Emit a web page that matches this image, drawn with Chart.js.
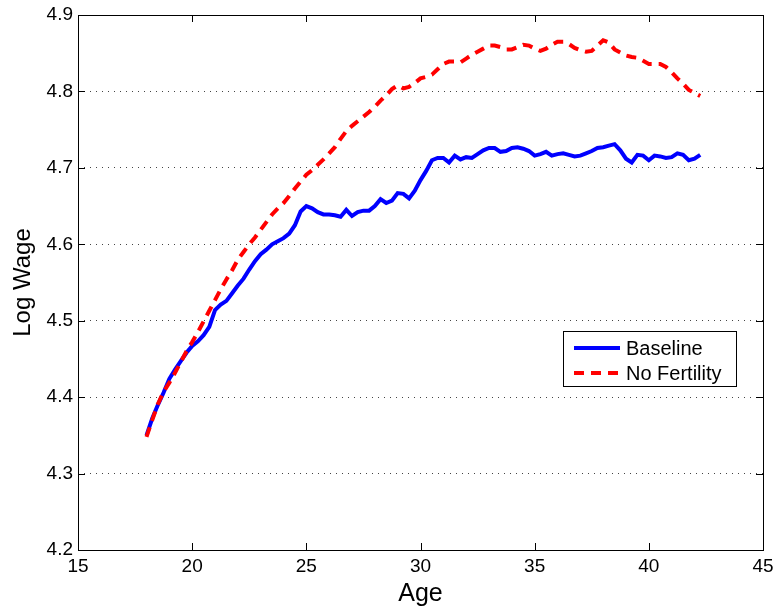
<!DOCTYPE html>
<html lang="en">
<head>
<meta charset="UTF-8">
<title>Log Wage by Age</title>
<style>
  body { margin: 0; background: #fff; }
  #wrap { width: 776px; height: 614px; }
</style>
</head>
<body>
<div id="wrap"><canvas id="chart" width="776" height="614"></canvas></div>
<script src="https://cdn.jsdelivr.net/npm/chart.js@4"></script>
<script>
// edad (trimestres)
const ages = [
  18.00, 18.25, 18.50, 18.75, 19.00, 19.25, 19.50, 19.75,
  20.00, 20.25, 20.50, 20.75, 21.00, 21.25, 21.50, 21.75,
  22.00, 22.25, 22.50, 22.75, 23.00, 23.25, 23.50, 23.75,
  24.00, 24.25, 24.50, 24.75, 25.00, 25.25, 25.50, 25.75,
  26.00, 26.25, 26.50, 26.75, 27.00, 27.25, 27.50, 27.75,
  28.00, 28.25, 28.50, 28.75, 29.00, 29.25, 29.50, 29.75,
  30.00, 30.25, 30.50, 30.75, 31.00, 31.25, 31.50, 31.75,
  32.00, 32.25, 32.50, 32.75, 33.00, 33.25, 33.50, 33.75,
  34.00, 34.25, 34.50, 34.75, 35.00, 35.25, 35.50, 35.75,
  36.00, 36.25, 36.50, 36.75, 37.00, 37.25, 37.50, 37.75,
  38.00, 38.25, 38.50, 38.75, 39.00, 39.25, 39.50, 39.75,
  40.00, 40.25, 40.50, 40.75, 41.00, 41.25, 41.50, 41.75,
  42.00, 42.25
];
const baseline = [
  4.350, 4.372, 4.390, 4.406, 4.424, 4.436, 4.447, 4.458,
  4.467, 4.473, 4.481, 4.492, 4.514, 4.521, 4.526, 4.536,
  4.546, 4.555, 4.567, 4.578, 4.587, 4.593, 4.600, 4.604,
  4.608, 4.614, 4.625, 4.643, 4.650, 4.647, 4.642, 4.639,
  4.639, 4.638, 4.636, 4.645, 4.637, 4.642, 4.644, 4.644,
  4.650, 4.659, 4.654, 4.657, 4.667, 4.666, 4.660, 4.670,
  4.684, 4.696, 4.710, 4.713, 4.713, 4.707, 4.716, 4.711,
  4.714, 4.713, 4.718, 4.723, 4.726, 4.726, 4.721, 4.722,
  4.726, 4.727, 4.725, 4.722, 4.716, 4.718, 4.721, 4.716,
  4.718, 4.719, 4.717, 4.715, 4.716, 4.719, 4.722, 4.726,
  4.727, 4.729, 4.731, 4.723, 4.712, 4.707, 4.717, 4.716,
  4.710, 4.716, 4.715, 4.713, 4.714, 4.719, 4.717, 4.710,
  4.712, 4.717
];
const noFertility = [
  4.348, 4.370, 4.391, 4.407, 4.419, 4.432, 4.446, 4.460,
  4.472, 4.485, 4.499, 4.513, 4.527, 4.541, 4.554, 4.566,
  4.580, 4.590, 4.600, 4.609, 4.619, 4.629, 4.639, 4.647,
  4.654, 4.663, 4.673, 4.682, 4.691, 4.697, 4.704, 4.711,
  4.719, 4.727, 4.738, 4.748, 4.755, 4.761, 4.767, 4.773,
  4.780, 4.788, 4.795, 4.803, 4.808, 4.804, 4.806, 4.811,
  4.817, 4.819, 4.822, 4.829, 4.836, 4.839, 4.839, 4.838,
  4.843, 4.848, 4.852, 4.856, 4.860, 4.860, 4.858, 4.855,
  4.855, 4.858, 4.861, 4.860, 4.856, 4.853, 4.856, 4.861,
  4.865, 4.865, 4.862, 4.857, 4.854, 4.852, 4.853, 4.860,
  4.867, 4.864, 4.855, 4.851, 4.847, 4.845, 4.844, 4.840,
  4.836, 4.836, 4.836, 4.832, 4.825, 4.817, 4.810, 4.802,
  4.798, 4.794
];
const xTicks = [15, 20, 25, 30, 35, 40, 45];
const yTicks = [4.2, 4.3, 4.4, 4.5, 4.6, 4.7, 4.8, 4.9];

const FONT = '"Liberation Sans", Arial, sans-serif';

// marco, marcas hacia dentro y leyenda estilo MATLAB
const framePlugin = {
  id: 'frame',
  afterDraw(chart) {
    const { ctx, chartArea: a, scales: { x, y } } = chart;
    ctx.save();
    ctx.strokeStyle = '#000';
    ctx.lineWidth = 1;
    ctx.setLineDash([]);
    ctx.beginPath();
    x.ticks.forEach(t => {
      const px = Math.round(x.getPixelForValue(t.value)) + 0.5;
      ctx.moveTo(px, a.bottom); ctx.lineTo(px, a.bottom - 7);
      ctx.moveTo(px, a.top); ctx.lineTo(px, a.top + 7);
    });
    y.ticks.forEach(t => {
      const py = Math.round(y.getPixelForValue(t.value)) + 0.5;
      ctx.moveTo(a.left, py); ctx.lineTo(a.left + 7, py);
      ctx.moveTo(a.right, py); ctx.lineTo(a.right - 7, py);
    });
    ctx.stroke();
    ctx.strokeRect(Math.round(a.left) + 0.5, Math.round(a.top) + 0.5,
      Math.round(a.right - a.left), Math.round(a.bottom - a.top));

    // leyenda
    const bx = a.right - 200, by = a.top + 316, bw = 173, bh = 55;
    ctx.fillStyle = '#fff';
    ctx.fillRect(bx, by, bw, bh);
    ctx.strokeRect(bx + 0.5, by + 0.5, bw, bh);
    ctx.font = '20px ' + FONT;
    ctx.textBaseline = 'middle';
    chart.data.datasets.forEach((ds, i) => {
      const ly = by + 17 + i * 25;
      ctx.beginPath();
      ctx.strokeStyle = ds.borderColor;
      ctx.lineWidth = ds.borderWidth;
      ctx.setLineDash(ds.borderDash || []);
      ctx.moveTo(bx + 11, ly);
      ctx.lineTo(bx + 57, ly);
      ctx.stroke();
      ctx.setLineDash([]);
      ctx.fillStyle = '#000';
      ctx.fillText(ds.label, bx + 63, ly + 1);
    });
    ctx.restore();
  }
};

new Chart(document.getElementById('chart'), {
  type: 'line',
  data: {
    labels: ages,
    datasets: [
      {
        label: 'Baseline',
        data: ages.map((a, i) => ({ x: a, y: baseline[i] })),
        borderColor: '#0000ff',
        borderWidth: 4,
        order: 2
      },
      {
        label: 'No Fertility',
        data: ages.map((a, i) => ({ x: a, y: noFertility[i] })),
        borderColor: '#ff0000',
        borderWidth: 4,
        borderDash: [10, 7],
        order: 1
      }
    ]
  },
  options: {
    responsive: false,
    animation: false,
    devicePixelRatio: 1,
    layout: { padding: { top: 15, right: 13, left: 0, bottom: 0 } },
    elements: { point: { radius: 0 }, line: { tension: 0, borderCapStyle: 'butt' } },
    plugins: { legend: { display: false }, tooltip: { enabled: false } },
    scales: {
      x: {
        type: 'linear',
        min: 15, max: 45,
        afterBuildTicks: s => { s.ticks = xTicks.map(v => ({ value: v })); },
        afterFit: s => { s.height = 64; s.paddingLeft = 0; s.paddingRight = 0; },
        grid: { display: false, drawTicks: false },
        border: { display: false },
        ticks: { color: '#000', padding: 5, font: { family: FONT, size: 19 }, maxRotation: 0 },
        title: { display: true, text: 'Age', color: '#000', font: { family: FONT, size: 25 }, padding: { top: 0, bottom: 5 } }
      },
      y: {
        min: 4.2, max: 4.9,
        afterBuildTicks: s => { s.ticks = yTicks.map(v => ({ value: v })); },
        afterFit: s => { s.width = 78; s.paddingTop = 0; s.paddingBottom = 0; },
        grid: { color: '#444', lineWidth: 1, drawTicks: false },
        border: { display: false, dash: [1, 5] },
        ticks: { color: '#000', padding: 5, font: { family: FONT, size: 19 }, callback: v => v.toFixed(1) },
        title: { display: true, text: 'Log Wage', color: '#000', font: { family: FONT, size: 24 }, padding: { top: 9, bottom: 0 } }
      }
    }
  },
  plugins: [framePlugin]
});
</script>
</body>
</html>
